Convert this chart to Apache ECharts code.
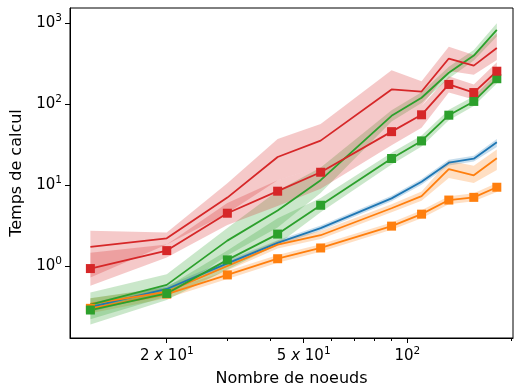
<!DOCTYPE html>
<html><head><meta charset="utf-8">
<script src="https://cdn.jsdelivr.net/npm/echarts@6/dist/echarts.min.js"></script>
<style>html,body{margin:0;padding:0;background:#fff}#c{width:514px;height:392px}</style>
</head><body><div id="c"></div>
<script>
const nodes = [12, 20, 30, 42, 56, 90, 110, 132, 156, 182];
const xMajorTicks = [20, 50, 100];
const xMinorTicks = [30, 40, 60, 70, 80, 90, 200];
const yTicks = [1, 10, 100, 1000];

const blueLine = [0.31, 0.52, 1.08, 1.93, 2.94, 6.85, 11.0, 18.9, 21.2, 33.9];
const blueLow  = [0.27, 0.47, 0.98, 1.78, 2.72, 6.3, 10.1, 17.4, 19.6, 29.6];
const blueHigh = [0.35, 0.57, 1.18, 2.08, 3.16, 7.4, 11.9, 20.5, 23.0, 37.0];

const orangeLine = [0.34, 0.48, 1.0, 1.84, 2.4, 5.17, 7.3, 15.7, 13.2, 21.4];
const orangeLow  = [0.29, 0.43, 0.88, 1.65, 2.15, 4.6, 6.4, 12.2, 10.6, 15.4];
const orangeHigh = [0.40, 0.54, 1.12, 2.05, 2.7, 5.8, 8.3, 20.0, 17.3, 27.5];

const orangeMark = [0.30, 0.45, 0.776, 1.23, 1.67, 3.11, 4.37, 6.53, 7.05, 9.4];
const orangeMarkLow  = [0.26, 0.40, 0.69, 1.1, 1.5, 2.8, 3.9, 5.8, 6.3, 8.2];
const orangeMarkHigh = [0.35, 0.50, 0.87, 1.37, 1.86, 3.45, 4.9, 7.3, 7.9, 10.6];

const greenLine = [0.333, 0.585, 2.06, 4.85, 11.5, 71.7, 120, 244, 398, 826];
const greenLow  = [0.22, 0.42, 1.35, 3.0, 8.0, 61, 103, 208, 345, 685];
const greenHigh = [0.47, 0.79, 2.95, 8.5, 16.5, 84, 140, 290, 465, 995];

const greenMark = [0.286, 0.458, 1.19, 2.48, 5.63, 21.3, 35.1, 73, 108, 206];
const greenMarkLow  = [0.19, 0.38, 0.9, 1.84, 4.6, 18, 30, 63, 95, 180];
const greenMarkHigh = [0.40, 0.55, 1.55, 3.9, 6.9, 25, 41, 85, 125, 240];

const redLine = [1.72, 2.2, 7.0, 22.2, 35.4, 152, 143, 366, 299, 493];
const redLow  = [0.72, 1.85, 4.5, 11.5, 17, 70, 95, 256, 230, 350];
const redHigh = [2.73, 2.6, 10.5, 37, 57, 262, 192, 510, 405, 750];

const redMark = [0.93, 1.55, 4.49, 8.4, 14.4, 45.7, 73.8, 175, 139, 255];
const redMarkLow  = [0.57, 1.27, 3.2, 5.5, 9, 31, 51, 139, 114, 192];
const redMarkHigh = [1.46, 1.85, 6.0, 11.5, 17, 70, 95, 221, 175, 330];

const C0 = '#1f77b4', C1 = '#ff7f0e', C2 = '#2ca02c', C3 = '#d62728';
const FONT = 'DejaVu Sans';

function rgba(hex, a) {
  const r = parseInt(hex.slice(1,3),16), g = parseInt(hex.slice(3,5),16), b = parseInt(hex.slice(5,7),16);
  return 'rgba(' + r + ',' + g + ',' + b + ',' + a + ')';
}
function band(low, high, color) {
  return {
    type: 'custom', silent: true, z: 1,
    data: [[nodes[0], high[0]]],
    renderItem: function (params, api) {
      const pts = [];
      for (let i = 0; i < nodes.length; i++) pts.push(api.coord([nodes[i], high[i]]));
      for (let i = nodes.length - 1; i >= 0; i--) pts.push(api.coord([nodes[i], low[i]]));
      return { type: 'polygon', shape: { points: pts }, style: { fill: rgba(color, 0.25), stroke: null } };
    }
  };
}
function line(vals, color, marker) {
  return {
    type: 'line', z: 3,
    data: nodes.map((x, i) => [x, vals[i]]),
    symbol: marker ? 'rect' : 'none', symbolSize: 9, showSymbol: !!marker,
    itemStyle: { color: color, borderWidth: 0 },
    lineStyle: { color: color, width: 1.8 },
    emphasis: { disabled: true }
  };
}
function xLabel(v) {
  const e = Math.floor(Math.log10(v) + 1e-9);
  const m = Math.round(v / Math.pow(10, e));
  if (m === 1) return '{n|10}{s|' + e + '}';
  return '{n|' + m + ' }{i|x}{n| 10}{s|' + e + '}';
}
const rich = {
  n: { fontFamily: FONT, fontSize: 15, color: '#000', lineHeight: 20 },
  i: { fontFamily: FONT, fontSize: 15, fontStyle: 'italic', color: '#000', lineHeight: 20 },
  s: { fontFamily: FONT, fontSize: 10.5, color: '#000', lineHeight: 12, verticalAlign: 'top' }
};

const chart = echarts.init(document.getElementById('c'), null, { renderer: 'canvas' });
chart.setOption({
  animation: false,
  backgroundColor: '#fff',
  grid: { left: 70, top: 8, right: 1, bottom: 51, show: true, borderColor: '#000', borderWidth: 1, containLabel: false },
  xAxis: [{
    type: 'log', logBase: 10, min: 10.47, max: 202.8,
    name: 'Nombre de noeuds', nameLocation: 'middle', nameGap: 33,
    nameTextStyle: { fontFamily: FONT, fontSize: 16, color: '#000' },
    axisLine: { show: true, lineStyle: { color: '#000', width: 1 } },
    axisTick: { show: true, length: 5, lineStyle: { color: '#000', width: 1 }, customValues: xMajorTicks },
    axisLabel: { show: true, customValues: xMajorTicks, formatter: xLabel, rich: rich, margin: 8 },
    splitLine: { show: false }, minorTick: { show: false }
  }, {
    type: 'log', logBase: 10, min: 10.47, max: 202.8, position: 'bottom', offset: 0,
    axisLine: { show: false },
    axisTick: { show: true, length: 3, lineStyle: { color: '#000', width: 1 }, customValues: xMinorTicks },
    axisLabel: { show: false }, splitLine: { show: false }
  }],
  yAxis: {
    type: 'log', logBase: 10, min: 0.129, max: 1540,
    name: 'Temps de calcul', nameLocation: 'middle', nameGap: 45,
    nameTextStyle: { fontFamily: FONT, fontSize: 16, color: '#000' },
    axisLine: { show: true, lineStyle: { color: '#000', width: 1 } },
    axisTick: { show: true, length: 5, lineStyle: { color: '#000', width: 1 }, customValues: yTicks },
    axisLabel: { show: true, customValues: yTicks, formatter: xLabel, rich: rich, margin: 8 },
    splitLine: { show: false }
  },
  series: [
    band(blueLow, blueHigh, C0),
    band(orangeLow, orangeHigh, C1),
    band(orangeMarkLow, orangeMarkHigh, C1),
    band(greenLow, greenHigh, C2),
    band(greenMarkLow, greenMarkHigh, C2),
    band(redLow, redHigh, C3),
    band(redMarkLow, redMarkHigh, C3),
    line(blueLine, C0, false),
    line(orangeLine, C1, false),
    line(greenLine, C2, false),
    line(redLine, C3, false),
    line(orangeMark, C1, true),
    line(greenMark, C2, true),
    line(redMark, C3, true)
  ]
});
</script>
</body></html>
